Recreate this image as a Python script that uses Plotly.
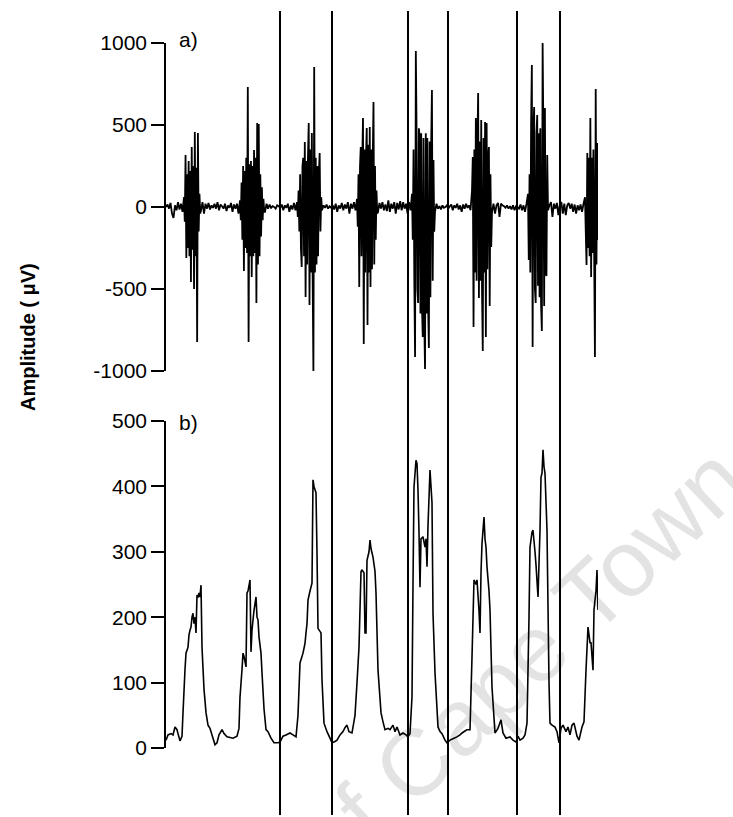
import numpy as np
import plotly.graph_objects as go

# ---------------- data ----------------
# raw EMG (panel a): piecewise sampled segments (time units, values in uV)
SEG_BOUNDS = [0, 18, 35, 74, 99, 131, 156, 191, 212, 246, 269, 306, 326, 362, 382, 419, 432]
SEG_VALUES = [
    [0, 15, -10, 25, -40, -67, 10, -20, 30, -15, 20, -30],
    [60, -90, 317, -311, 200, -250, 280, -300, 220, -457, 366, -260, 250, -500, 457, -300, 240,
     -823, 451, -150, 80, -40],
    [-20, 30, -40, 20, -10, 25, -15, 10, -5, 20, -10, 30, -20, 15, 5, -10, 20, -25, 10, -5, 25,
     -30, 15, -10, 20, -40],
    [40, -80, 150, -200, 250, -390, 220, -250, 300, -280, 732, -823, 260, -300, 280, -427, 250,
     -300, 348, -280, 300, -585, 512, -350, 506, -300, 200, -180, 120, -80, 50, -30],
    [-30, 20, -10, 15, -5, 5, 0, -10, 10, 5, -5, 15, -20, 10, -5, 20, -30, 10, -15, 25, -20],
    [30, -60, 100, -150, 200, -250, -366, 250, 300, -300, 396, -549, 280, -350, 300, 512, -598,
     350, -400, 451, -420, -1006, 853, -400, 300, -350, 250, -300, 200, 329, -150, 60],
    [-20, 10, -5, 15, -10, 5, -5, 10, -15, 20, -30, 10, -10, 25, -20, 15, -10, 30, -40, 20, -10,
     30, -20],
    [50, -120, 200, -488, 250, 366, -300, 280, 543, -835, 350, -400, 300, 482, -720, 380, -400,
     488, -488, 350, -380, 300, 640, -350, 250, -200, 100, -40],
    [-30, 25, -10, 30, -20, 15, -25, 40, -30, 20, -10, 30, -40, 25, -15, 35, -20, 30, -10, 20,
     -40, 30, -20],
    [80, -200, 350, -450, -915, 951, 450, -500, -585, 480, 427, -650, 450, -600, -793, 420, -700,
     -988, 450, -650, 420, -600, -860, 400, -550, 380, 713, -450, 287, -150],
    [-30, 20, -10, 5, -15, 10, -5, 0, 10, -10, 5, 15, -20, 10, -5, 20, -15, 10, -30, 15, -10, 20,
     -5, 10, -20],
    [100, 305, -732, 350, -400, 543, -450, 380, 695, -555, 400, -450, 530, -500, -878, 420, -400,
     518, -793, 512, -380, 300, 366, -604, 200, -244],
    [-30, 20, -40, 10, 25, -60, 20, 10, 5, -5, 10, -10, 5, -15, 10, -20, 5, 0, -10, 15, -20, 10,
     -30, 20],
    [80, -323, 200, -400, 500, 866, -854, 450, 610, -500, -585, 450, 561, -480, 450, -550, 480,
     -600, -756, 1000, 450, -604, 604, -400, -421, 317],
    [-20, 10, 30, -60, 20, -10, 25, -50, 15, 30, -40, 20, -50, 10, 25, -10, 20, -30, 15, -40, 10,
     -20, 15, -30, 20],
    [60, -150, -354, 329, -250, 300, -300, 543, -427, 300, -280, 350, -300, -915, 720, -350, 390,
     -201],
]

# rectified / smoothed envelope (panel b)
ENV_T = [0, 2, 5, 7, 9, 11, 12, 14, 16, 17, 19, 20, 22, 23, 24, 25, 26, 27, 28, 29, 30, 31, 32, 33,
         34, 35, 36, 38, 40, 42, 44, 46, 49, 51, 53, 56, 58, 61, 64, 67, 71, 73, 74, 76, 77, 78,
         80, 81, 82, 84, 85, 86, 87, 88, 90, 91, 92, 93, 95, 96, 98, 100, 102, 105, 108, 112, 114,
         117, 120, 124, 127, 130, 132, 134, 137, 139, 140, 141, 142, 144, 146, 147, 148, 150, 151,
         152, 155, 156, 158, 161, 164, 166, 169, 171, 174, 177, 179, 181, 183, 186, 189, 191, 193,
         195, 196, 198, 199, 200, 201, 203, 204, 205, 207, 209, 210, 212, 215, 217, 219, 222, 224,
         227, 229, 231, 234, 237, 240, 242, 244, 246, 247, 248, 250, 251, 252, 253, 254, 255, 257,
         259, 260, 261, 262, 264, 265, 266, 267, 269, 272, 274, 276, 279, 281, 284, 288, 291, 294,
         296, 299, 301, 304, 306, 308, 310, 311, 313, 314, 315, 316, 318, 319, 320, 321, 323, 324,
         326, 329, 332, 335, 337, 340, 344, 347, 350, 352, 354, 357, 359, 361, 363, 364, 366, 367,
         369, 370, 372, 374, 375, 376, 377, 378, 379, 381, 383, 384, 386, 389, 391, 393, 395, 397,
         400, 402, 404, 406, 408, 411, 413, 416, 418, 420, 422, 424, 425, 426, 427, 428, 429, 430,
         431, 432]
ENV_V = [12, 20, 22, 20, 32, 28, 22, 11, 18, 54, 120, 145, 154, 173, 180, 185, 200, 206, 190, 200,
         176, 234, 230, 237, 231, 249, 154, 90, 54, 35, 30, 20, 5, 8, 20, 28, 22, 17, 16, 15, 18,
         30, 78, 120, 145, 140, 124, 237, 240, 257, 147, 180, 196, 210, 231, 200, 196, 170, 145,
         115, 60, 28, 25, 15, 8, 8, 9, 18, 20, 23, 20, 17, 50, 130, 145, 160, 176, 190, 226, 240,
         252, 410, 400, 390, 298, 183, 176, 104, 38, 25, 15, 8, 10, 12, 20, 25, 31, 35, 25, 23, 50,
         100, 154, 270, 272, 268, 176, 176, 287, 300, 318, 305, 292, 270, 237, 119, 54, 40, 28, 30,
         28, 35, 25, 32, 20, 23, 20, 17, 22, 78, 250, 399, 440, 435, 394, 330, 246, 320, 323, 307,
         320, 277, 340, 425, 400, 375, 206, 115, 32, 25, 22, 12, 8, 12, 15, 17, 20, 23, 26, 28, 28,
         139, 257, 250, 257, 210, 176, 268, 313, 353, 320, 307, 277, 240, 211, 93, 23, 30, 43, 23,
         15, 17, 12, 9, 18, 12, 15, 20, 38, 200, 307, 330, 333, 300, 280, 231, 333, 414, 420, 456,
         430, 420, 333, 100, 38, 35, 32, 25, 8, 30, 35, 25, 32, 20, 35, 38, 18, 12, 32, 40, 119,
         185, 161, 161, 140, 119, 211, 226, 240, 272, 211]

EVENT_T = [114, 166, 242, 282, 351, 394]   # vertical event markers
T_RANGE = [0, 432]

A_RANGE = [-1000, 1000]
A_TICKS = [-1000, -500, 0, 500, 1000]
A_TICKTEXT = ["-1000", "-500", "0", "500", "1000"]
B_RANGE = [0, 500]
B_TICKS = [0, 100, 200, 300, 400, 500]
B_TICKTEXT = ["0", "100", "200", "300", "400", "500"]

Y_TITLE = "Amplitude ( \u03bcV)"
PANEL_LABELS = ["a)", "b)"]
WATERMARK = "University of Cape Town"

# ---------------- build ----------------
raw_t, raw_v = [], []
for i, vals in enumerate(SEG_VALUES):
    last = i == len(SEG_VALUES) - 1
    ts = np.linspace(SEG_BOUNDS[i], SEG_BOUNDS[i + 1], len(vals), endpoint=last)
    raw_t.extend(ts.tolist())
    raw_v.extend(vals)

W, H = 733, 817
FONT = "Liberation Sans, Arial, Helvetica, sans-serif"

fig = go.Figure()
fig.add_trace(go.Scatter(x=raw_t, y=raw_v, mode="lines", xaxis="x", yaxis="y",
                         line=dict(color="black", width=1.8, simplify=False),
                         showlegend=False, hoverinfo="skip"))
fig.add_trace(go.Scatter(x=ENV_T, y=ENV_V, mode="lines", xaxis="x2", yaxis="y2",
                         line=dict(color="black", width=1.6, simplify=False),
                         showlegend=False, hoverinfo="skip"))

xdom = [166 / W, 598 / W]
ya_dom = [1 - 371 / H, 1 - 43 / H]
yb_dom = [1 - 748 / H, 1 - 421 / H]

yax = dict(showline=True, linecolor="black", linewidth=1.5, ticks="outside", ticklen=13,
           tickwidth=1.5, tickcolor="black", showgrid=False, zeroline=False, automargin=False,
           tickfont=dict(family=FONT, size=21, color="black"))

fig.update_layout(
    width=W, height=H, autosize=False,
    margin=dict(l=0, r=0, t=0, b=0, pad=0),
    paper_bgcolor="white", plot_bgcolor="rgba(0,0,0,0)",
    xaxis=dict(domain=xdom, range=T_RANGE, visible=False, anchor="y", automargin=False),
    xaxis2=dict(domain=xdom, range=T_RANGE, visible=False, anchor="y2", automargin=False),
    yaxis=dict(domain=ya_dom, range=A_RANGE, tickvals=A_TICKS, ticktext=A_TICKTEXT,
               anchor="x", **yax),
    yaxis2=dict(domain=yb_dom, range=B_RANGE, tickvals=B_TICKS, ticktext=B_TICKTEXT,
                anchor="x2", **yax),
)

for t in EVENT_T:
    fig.add_shape(type="line", xref="x", yref="paper", x0=t, x1=t,
                  y0=1 - 815 / H, y1=1 - 11 / H, line=dict(color="black", width=2))

fig.add_annotation(text="<b>" + Y_TITLE + "</b>", xref="paper", yref="paper",
                   x=28 / W, y=1 - 337 / H, xanchor="center", yanchor="middle",
                   textangle=-90, showarrow=False,
                   font=dict(family=FONT, size=20, color="black"))
fig.add_annotation(text=PANEL_LABELS[0], xref="paper", yref="paper", x=177 / W, y=1 - 40 / H,
                   xanchor="left", yanchor="middle", showarrow=False,
                   font=dict(family=FONT, size=21, color="black"))
fig.add_annotation(text=PANEL_LABELS[1], xref="paper", yref="paper", x=177 / W, y=1 - 422 / H,
                   xanchor="left", yanchor="middle", showarrow=False,
                   font=dict(family=FONT, size=21, color="black"))
fig.add_annotation(text=WATERMARK, xref="paper", yref="paper", x=362 / W, y=1 - 812 / H,
                   xanchor="center", yanchor="middle", textangle=-43.5, showarrow=False,
                   font=dict(family=FONT, size=94, color="rgba(0,0,0,0.11)"))

fig.write_html("out.html")
